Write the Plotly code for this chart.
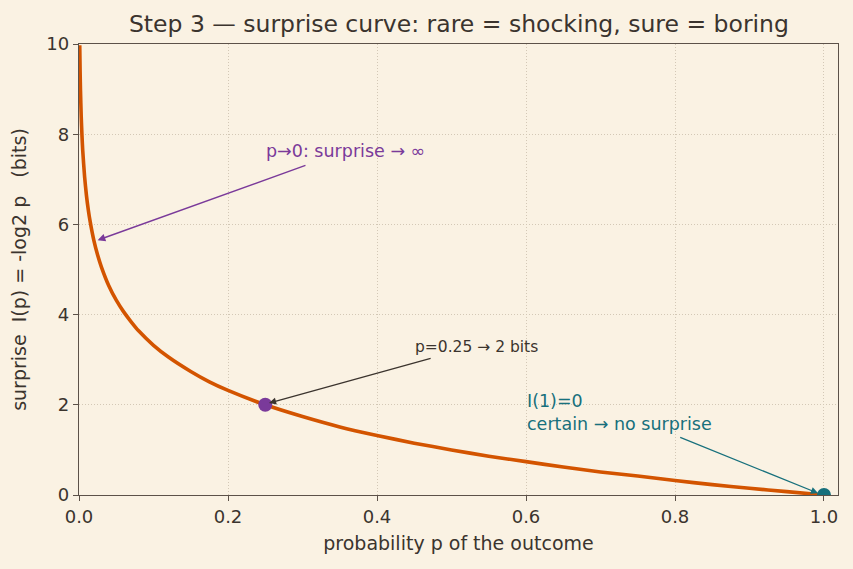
import plotly.graph_objects as go

# Data: surprise I(p) = -log2 p
p_vals = [0.001, 0.0015, 0.002, 0.003, 0.004, 0.005, 0.0075, 0.01, 0.0125, 0.015, 0.02, 0.025,
          0.03, 0.04, 0.05, 0.06, 0.07, 0.08, 0.10, 0.12, 0.15, 0.175, 0.20, 0.25, 0.30, 0.35,
          0.40, 0.45, 0.50, 0.55, 0.60, 0.65, 0.70, 0.75, 0.80, 0.85, 0.90, 0.95, 1.00]
surprise = [9.97, 9.38, 8.97, 8.38, 7.97, 7.64, 7.06, 6.64, 6.32, 6.06, 5.64, 5.32,
            5.06, 4.64, 4.32, 4.06, 3.84, 3.64, 3.32, 3.06, 2.74, 2.51, 2.32, 2.00, 1.74, 1.51,
            1.32, 1.15, 1.00, 0.86, 0.74, 0.62, 0.51, 0.42, 0.32, 0.23, 0.15, 0.074, 0.0]

mark_p = [0.25]
mark_i = [2.0]
certain_p = [1.0]
certain_i = [0.0]

x_ticks = [0.0, 0.2, 0.4, 0.6, 0.8, 1.0]
y_ticks = [0, 2, 4, 6, 8, 10]

BG = "#faf2e3"
INK = "#3b342e"
SPINE = "#5c5249"
GRID = "#d3c8b6"
ORANGE = "#d35400"
PURPLE = "#7a3a9a"
TEAL = "#17707c"
FONT = "DejaVu Sans"

fig = go.Figure()
fig.add_trace(go.Scatter(x=p_vals, y=surprise, mode="lines", line=dict(color=ORANGE, width=3.6, shape="spline", smoothing=0.6),
                         hoverinfo="skip", showlegend=False))
fig.add_trace(go.Scatter(x=mark_p, y=mark_i, mode="markers", marker=dict(color=PURPLE, size=14),
                         showlegend=False))
fig.add_trace(go.Scatter(x=certain_p, y=certain_i, mode="markers", marker=dict(color=TEAL, size=14),
                         showlegend=False))

def arrow(x, y, ax, ay, color, width):
    fig.add_annotation(x=x, y=y, ax=ax, ay=ay, xref="x", yref="y", axref="x", ayref="y",
                       text="", showarrow=True, arrowhead=2, arrowsize=1.1, arrowwidth=width,
                       arrowcolor=color, standoff=0, startstandoff=0)

arrow(0.025, 5.65, 0.306, 7.32, PURPLE, 1.4)
fig.add_annotation(x=0.248, y=7.63, xref="x", yref="y", text="p→0: surprise → ∞", showarrow=False,
                   xanchor="left", yanchor="middle", font=dict(family=FONT, size=17.5, color=PURPLE))

arrow(0.255, 2.04, 0.474, 3.04, INK, 1.3)
fig.add_annotation(x=0.448, y=3.28, xref="x", yref="y", text="p=0.25 → 2 bits", showarrow=False,
                   xanchor="left", yanchor="middle", font=dict(family=FONT, size=15.5, color=INK))

arrow(0.992, 0.04, 0.805, 1.29, TEAL, 1.3)
fig.add_annotation(x=0.598, y=1.82, xref="x", yref="y", text="I(1)=0<br>certain → no surprise", showarrow=False,
                   xanchor="left", yanchor="middle", align="left",
                   font=dict(family=FONT, size=17.5, color=TEAL))

axis_common = dict(showline=True, linecolor=SPINE, linewidth=1.3, mirror=True,
                   ticks="outside", ticklen=5, tickwidth=1.2, tickcolor=SPINE,
                   showgrid=True, gridcolor=GRID, griddash="1px,2px", gridwidth=1,
                   zeroline=False, tickfont=dict(family=FONT, size=18, color=INK))

fig.update_xaxes(range=[0, 1.0188], tickvals=x_ticks, tickformat=".1f",
                 title=dict(text="probability p of the outcome", font=dict(family=FONT, size=19, color=INK), standoff=10),
                 **axis_common)
fig.update_yaxes(range=[0, 10], tickvals=y_ticks,
                 title=dict(text="surprise  I(p) = -log2 p   (bits)", font=dict(family=FONT, size=19, color=INK), standoff=14),
                 **axis_common)

fig.update_layout(
    width=853, height=569,
    paper_bgcolor=BG, plot_bgcolor=BG,
    margin=dict(l=79, r=15, t=44, b=74),
    title=dict(text="Step 3 — surprise curve: rare = shocking, sure = boring",
               font=dict(family=FONT, size=23.5, color=INK), x=0.538, xanchor="center", y=0.958, yanchor="middle"),
    font=dict(family=FONT, color=INK),
)

fig.write_html("out.html")
